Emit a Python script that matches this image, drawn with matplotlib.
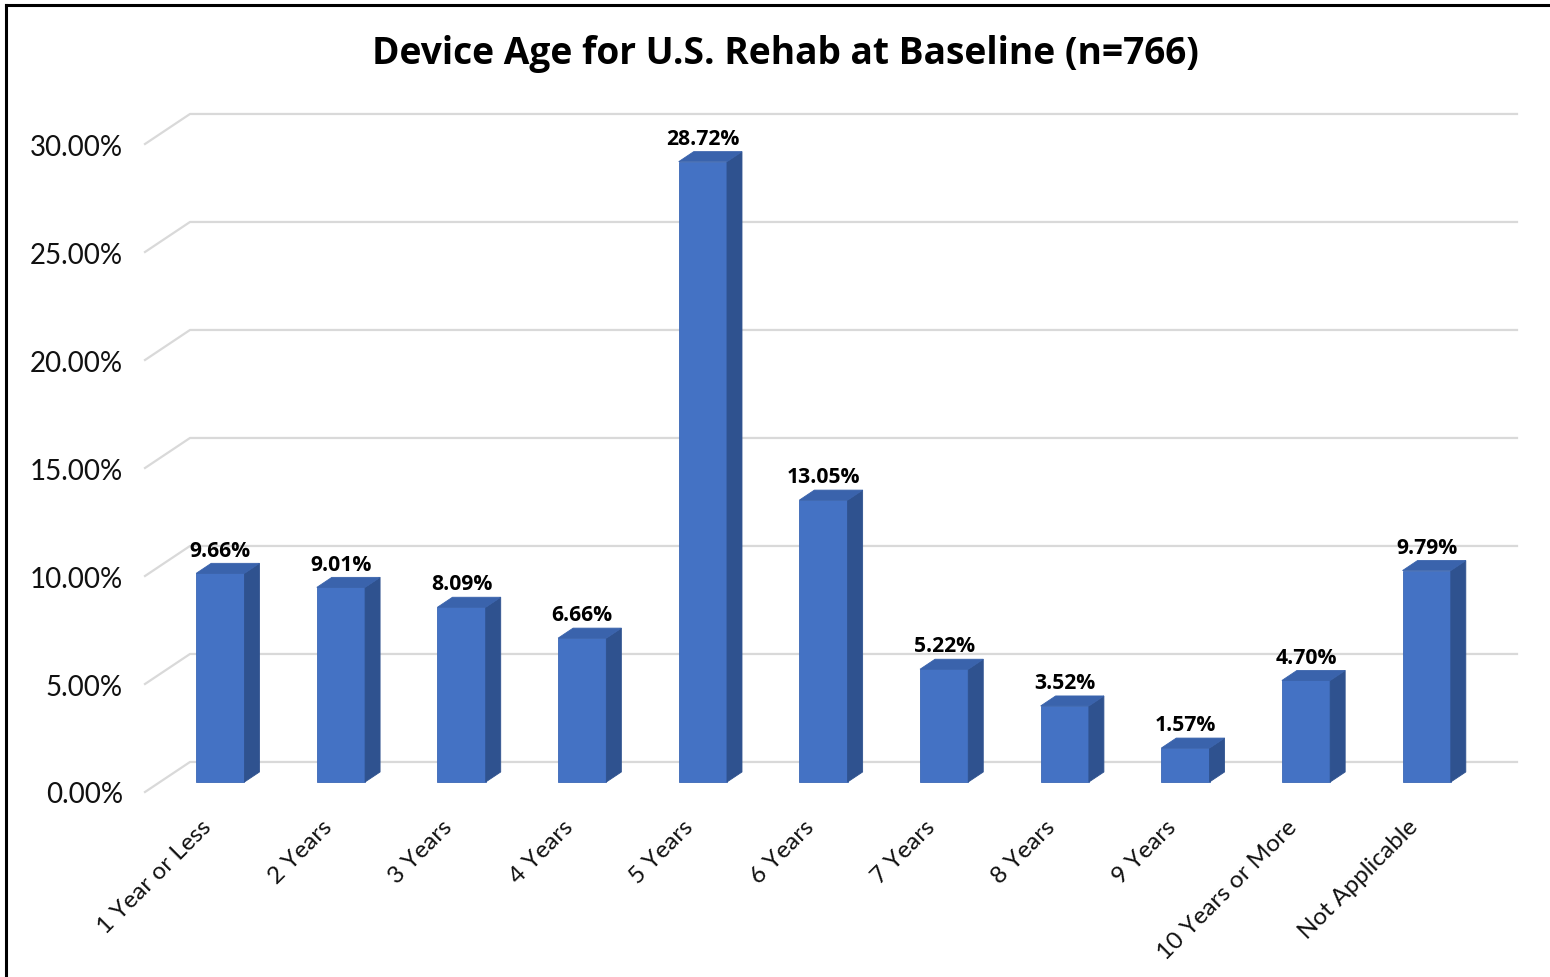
"""
Device age bar chart (Excel-style 3D columns) for U.S. Rehab at baseline.
"""

import numpy as np
import matplotlib.pyplot as plt
from matplotlib.patches import Polygon
from matplotlib.lines import Line2D
from matplotlib.transforms import ScaledTranslation

# ==============================================================================
# Data
# ==============================================================================

categories = ['1 Year or Less', '2 Years', '3 Years', '4 Years', '5 Years',
              '6 Years', '7 Years', '8 Years', '9 Years', '10 Years or More',
              'Not Applicable']
percentages = [9.66, 9.01, 8.09, 6.66, 28.72, 13.05, 5.22, 3.52, 1.57, 4.70, 9.79]
y_ticks = [0, 5, 10, 15, 20, 25, 30]
y_tick_labels = ['0.00%', '5.00%', '10.00%', '15.00%', '20.00%', '25.00%', '30.00%']
title = 'Device Age for U.S. Rehab at Baseline (n=766)'

# ==============================================================================
# Styling
# ==============================================================================

plt.rcParams['font.family'] = ['Lato', 'DejaVu Sans']
BOLD_FONT = ['Open Sans', 'DejaVu Sans']

W, H = 1550, 978
FRONT_COLOR = '#4472C4'
SIDE_COLOR = '#2F528F'
TOP_COLOR = '#3A63AC'
GRID_COLOR = '#D9D9D9'

# depth of the floor (front plane -> back wall) in data units
DEPTH_X = 0.373   # category units
DEPTH_Y = 1.39    # percent units
BAR_W = 0.40

fig = plt.figure(figsize=(W / 100, H / 100), dpi=100)
fig.patch.set_facecolor('white')

# front plane of the plot area in pixels (left, right, top, bottom from top)
px_left, px_right, px_top, px_bottom = 145, 1472, 145, 793
ax = fig.add_axes([px_left / W, 1 - px_bottom / H,
                   (px_right - px_left) / W, (px_bottom - px_top) / H])
ax.set_xlim(-0.5, len(categories) - 0.5)
ax.set_ylim(0, 30)
for s in ax.spines.values():
    s.set_visible(False)
ax.patch.set_visible(False)

# --- gridlines: diagonal on the side wall + horizontal on the back wall ---
x0 = -0.5
x_end = len(categories) - 0.5 + DEPTH_X
for t in y_ticks:
    ax.add_line(Line2D([x0, x0 + DEPTH_X, x_end], [t, t + DEPTH_Y, t + DEPTH_Y],
                       color=GRID_COLOR, lw=1.6, clip_on=False, zorder=1))

# --- bars ---
x = np.arange(len(categories))
fx, fy = DEPTH_X / 3, DEPTH_Y / 3      # front face offset
bx, by = DEPTH_X / 3, DEPTH_Y / 3      # bar depth
ax.bar(x + fx, percentages, width=BAR_W, bottom=fy, color=FRONT_COLOR,
       edgecolor='#3B67B5', linewidth=0.6, zorder=3, clip_on=False)
for xi, v in zip(x, percentages):
    xl = xi + fx - BAR_W / 2
    xr = xi + fx + BAR_W / 2
    side = [(xr, fy), (xr + bx, fy + by), (xr + bx, v + fy + by), (xr, v + fy)]
    top = [(xl, v + fy), (xr, v + fy), (xr + bx, v + fy + by), (xl + bx, v + fy + by)]
    ax.add_patch(Polygon(side, closed=True, facecolor=SIDE_COLOR,
                         edgecolor=SIDE_COLOR, lw=0.6, zorder=3, clip_on=False))
    ax.add_patch(Polygon(top, closed=True, facecolor=TOP_COLOR,
                         edgecolor=TOP_COLOR, lw=0.6, zorder=3, clip_on=False))
    ax.annotate(f'{v:.2f}%', xy=(xi + fx, v + fy + by), xytext=(0, 2),
                textcoords='offset points', ha='center', va='bottom',
                fontsize=15.2, fontweight='bold', family=BOLD_FONT,
                color='black', zorder=4, annotation_clip=False)

# --- axes labels ---
ax.set_yticks(y_ticks, y_tick_labels)
ax.set_xticks(x, categories, rotation=45, ha='right', rotation_mode='anchor')
ax.tick_params(axis='y', length=0, pad=16, labelsize=20, labelcolor='#111111')
ax.tick_params(axis='x', length=0, pad=17, labelsize=17.5, labelcolor='#111111')
shift = ScaledTranslation(-5 / 100, 0, fig.dpi_scale_trans)
for lbl in ax.get_xticklabels():
    lbl.set_transform(lbl.get_transform() + shift)

fig.text(785 / W, 1 - 54 / H, title, ha='center', va='center',
         fontsize=26.7, fontweight='bold', family=BOLD_FONT, color='black')

# thin black frame on the left and top edges
fig.add_artist(Line2D([6 / W, 6 / W], [0, 1 - 6 / H], color='black', lw=2.2,
                      transform=fig.transFigure))
fig.add_artist(Line2D([6 / W, 1], [1 - 6 / H, 1 - 6 / H], color='black', lw=2.2,
                      transform=fig.transFigure))

fig.savefig('out.png', dpi=100, facecolor='white')
